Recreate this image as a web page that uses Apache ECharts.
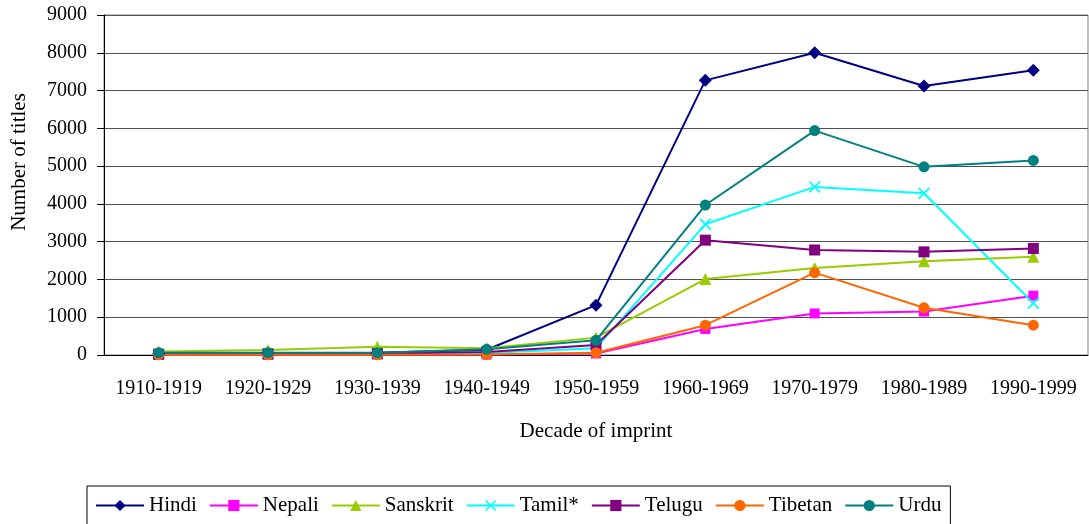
<!DOCTYPE html>
<html>
<head>
<meta charset="utf-8">
<script src="https://cdn.jsdelivr.net/npm/echarts@6/dist/echarts.min.js"></script>
<style>
  html, body { margin: 0; padding: 0; background: #fff; }
  #chart { width: 1089px; height: 524px; }
</style>
</head>
<body>
<div id="chart"></div>
<script>
// 数据
let decades = ['1910-1919', '1920-1929', '1930-1939', '1940-1949', '1950-1959',
  '1960-1969', '1970-1979', '1980-1989', '1990-1999']
let hindi = [40, 50, 60, 140, 1320, 7270, 8000, 7120, 7540]
let nepali = [5, 5, 10, 10, 40, 690, 1100, 1150, 1570]
let sanskrit = [90, 130, 220, 180, 460, 2010, 2300, 2480, 2600]
let tamil = [20, 30, 30, 50, 180, 3460, 4450, 4280, 1370]
let telugu = [20, 30, 40, 80, 265, 3040, 2780, 2730, 2820]
let tibetan = [5, 5, 5, 10, 60, 790, 2180, 1250, 790]
let urdu = [60, 60, 60, 150, 390, 3970, 5940, 4980, 5150]

let font = 'Liberation Serif'
let cross = 'path://M0,1L1,0L5,4L9,0L10,1L6,5L10,9L9,10L5,6L1,10L0,9L4,5Z'

function makeSeries(name, data, color, symbol, size) {
  return {
    name: name,
    type: 'line',
    data: data,
    symbol: symbol,
    symbolSize: size,
    showSymbol: true,
    showAllSymbol: true,
    lineStyle: {color: color, width: 2},
    itemStyle: {color: color},
    emphasis: {disabled: true}
  }
}

let myChart = echarts.init(document.getElementById('chart'))
let option = {
  animation: false,
  backgroundColor: '#fff',
  textStyle: {fontFamily: font, color: '#000'},
  grid: {
    left: 104, right: 1, top: 15, bottom: 169,
    show: true, borderColor: '#808080', borderWidth: 1
  },
  legend: {
    left: 87, top: 486,
    padding: [9, 9, 10, 8],
    itemGap: 12,
    itemWidth: 48,
    itemHeight: 14,
    borderColor: '#000',
    borderWidth: 1,
    textStyle: {fontFamily: font, fontSize: 21, color: '#000'}
  },
  xAxis: {
    type: 'category',
    data: decades,
    boundaryGap: true,
    name: 'Decade of imprint',
    nameLocation: 'middle',
    nameGap: 66,
    nameTextStyle: {fontFamily: font, fontSize: 21, color: '#000'},
    axisLine: {lineStyle: {color: '#000', width: 1}},
    axisTick: {length: 8, lineStyle: {color: '#000'}},
    axisLabel: {interval: 0, margin: 24, fontFamily: font, fontSize: 20, color: '#000'},
    splitLine: {show: false}
  },
  yAxis: {
    type: 'value',
    min: 0,
    max: 9000,
    interval: 1000,
    axisLine: {show: true, lineStyle: {color: '#000', width: 1}},
    axisTick: {show: true, length: 7, lineStyle: {color: '#000'}},
    axisLabel: {
      margin: 17, fontFamily: font, fontSize: 20, color: '#000',
      formatter: function (v) {
        return String(v)
      }
    },
    splitLine: {lineStyle: {color: '#505050', width: 1}}
  },
  graphic: [{
    type: 'text',
    x: 19,
    y: 162,
    rotation: Math.PI / 2,
    style: {
      text: 'Number of titles',
      font: '21px "Liberation Serif"',
      fill: '#000',
      textAlign: 'center',
      textVerticalAlign: 'middle'
    }
  }],
  series: [
    makeSeries('Hindi', hindi, '#000080', 'diamond', 13),
    makeSeries('Nepali', nepali, '#ff00ff', 'rect', 10),
    makeSeries('Sanskrit', sanskrit, '#99cc00', 'triangle', 12),
    makeSeries('Tamil*', tamil, '#00ffff', cross, 12),
    makeSeries('Telugu', telugu, '#800080', 'rect', 11),
    makeSeries('Tibetan', tibetan, '#ff6600', 'circle', 11),
    makeSeries('Urdu', urdu, '#008080', 'circle', 11)
  ]
}
myChart.setOption(option)
</script>
</body>
</html>
